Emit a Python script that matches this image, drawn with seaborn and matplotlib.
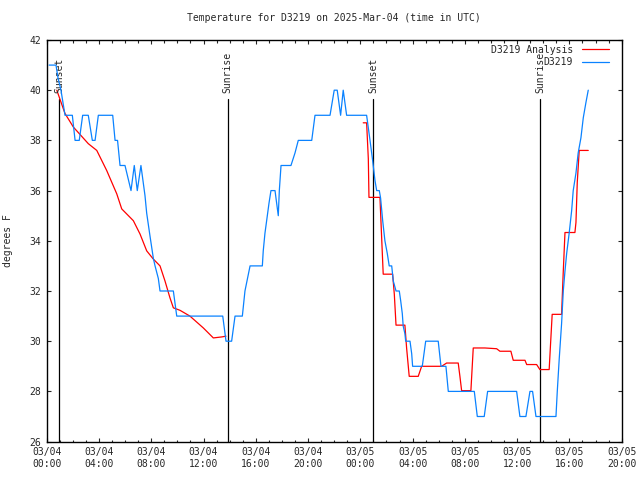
import matplotlib
matplotlib.use("Agg")
import matplotlib.pyplot as plt
import matplotlib.dates as mdates
import seaborn as sns
import pandas as pd

# hours after 2025-03-04 00:00 UTC
obs_hours = [0.18, 0.71, 0.86, 1.09, 1.40, 1.96, 2.17, 2.49, 2.75, 3.18, 3.49, 3.70, 3.95,
             5.05, 5.23, 5.42, 5.61, 5.99, 6.45, 6.70, 6.93, 7.21, 7.52, 7.65, 7.90, 8.16,
             8.29, 8.54, 8.67, 9.69, 9.95, 13.47, 13.72, 14.15, 14.41, 14.97, 15.17, 15.56,
             16.50, 16.57, 16.70, 16.83, 17.01, 17.16, 17.47, 17.72, 17.80, 17.93, 18.69,
             19.00, 19.25, 20.28, 20.53, 21.68, 22.00, 22.23, 22.49, 22.69, 22.95, 24.48,
             24.61, 24.74, 24.94, 25.12, 25.25, 25.45, 25.55, 25.71, 25.88, 26.06, 26.21,
             26.40, 26.52, 26.73, 26.98, 27.09, 27.21, 27.28, 27.41, 27.47, 27.80, 27.93,
             28.00, 28.74, 29.00, 29.96, 30.17, 30.55, 30.73, 32.72, 32.95, 33.48, 33.74,
             35.96, 36.21, 36.67, 36.98, 37.18, 37.44, 38.97, 39.07, 39.22, 39.40, 39.53,
             39.66, 39.79, 39.98, 40.17, 40.29, 40.50, 40.67, 40.88, 41.06, 41.26, 41.44]
obs_temp = [41, 41, 40.5, 40, 39, 39, 38, 38, 39, 39, 38, 38, 39,
            39, 38, 38, 37, 37, 36, 37, 36, 37, 35.8, 35.1, 34.2, 33.3,
            33, 32.5, 32, 32, 31, 31, 30, 30, 31, 31, 32, 33,
            33, 33.6, 34.3, 34.8, 35.5, 36, 36, 35, 36, 37, 37,
            37.5, 38, 38, 39, 39, 40, 40, 39, 40, 39, 39,
            38.5, 38, 37.2, 36.4, 36, 36, 35.7, 34.8, 34, 33.5, 33,
            33, 32.4, 32, 32, 31.6, 31.1, 30.6, 30.3, 30, 30, 29.5,
            29, 29, 30, 30, 29, 29, 28, 28, 27, 27, 28,
            28, 27, 27, 28, 28, 27, 27, 28, 29.3, 30.7, 32,
            32.8, 33.5, 34.3, 35.2, 36, 36.7, 37.5, 38.1, 38.9, 39.5, 40]

ana1_hours = [0.77, 1.40, 2.04, 3.18, 3.83, 4.59, 5.36, 5.74, 6.63, 7.14, 7.65, 8.16,
              8.67, 9.05, 9.43, 9.69, 10.20, 10.96, 11.98, 12.75, 13.39, 13.72]
ana1_temp = [40.0, 39.07, 38.53, 37.87, 37.6, 36.8, 35.87, 35.27, 34.8, 34.27, 33.6, 33.27,
             33.0, 32.4, 31.73, 31.33, 31.23, 31.0, 30.53, 30.13, 30.17, 30.2]
ana2_hours = [24.22, 24.48, 24.61, 24.66, 25.50, 25.63, 25.75, 26.47, 26.60, 26.73, 27.41,
              27.54, 27.74, 28.43, 28.69, 30.22, 30.60, 31.49, 31.62, 31.75, 32.46, 32.64,
              33.53, 34.43, 34.68, 35.52, 35.70, 36.60, 36.73, 37.49, 37.74, 38.45, 38.56,
              38.68, 39.40, 39.44, 39.52, 39.66, 40.42, 40.50, 40.60, 40.75, 41.44]
ana2_temp = [38.7, 38.7, 37.27, 35.73, 35.73, 34.13, 32.67, 32.67, 31.87, 30.64, 30.64,
             29.73, 28.6, 28.6, 29.0, 29.0, 29.13, 29.13, 28.6, 28.03, 28.03, 29.73,
             29.73, 29.7, 29.6, 29.6, 29.24, 29.24, 29.07, 29.07, 28.87, 28.87, 29.93,
             31.07, 31.07, 31.6, 32.67, 34.33, 34.33, 34.73, 36.33, 37.6, 37.6]

sun_hours = [0.97, 13.85, 24.99, 37.74]
sun_labels = ["Sunset", "Sunrise", "Sunset", "Sunrise"]

base = pd.Timestamp("2025-03-04 00:00")


def to_time(hours):
    return base + pd.to_timedelta(hours, unit="h")


sns.set_theme(style="white")
plt.rcParams['font.family'] = ['DejaVu Sans Mono']
plt.rcParams['font.size'] = 7

fig = plt.figure(figsize=(6.4, 4.8), dpi=100)
ax = fig.add_axes([0.073, 0.080, 0.8984, 0.8367])

red = "#ff0000"
blue = "#0a82ff"

sns.lineplot(x=to_time(ana1_hours), y=ana1_temp, ax=ax, color=red, lw=0.9,
             estimator=None, label="D3219 Analysis", zorder=3)
sns.lineplot(x=to_time(ana2_hours), y=ana2_temp, ax=ax, color=red, lw=0.9,
             estimator=None, zorder=3)
sns.lineplot(x=to_time(obs_hours), y=obs_temp, ax=ax, color=blue, lw=0.9,
             estimator=None, label="D3219", zorder=4)

# sunrise / sunset markers
for h, lab in zip(sun_hours, sun_labels):
    t = to_time(h)
    ax.plot([t, t], [26, 39.65], color="black", lw=0.9, zorder=2)
    ax.text(t, 39.9, lab, rotation=90, ha="center", va="bottom", fontsize=7)

ax.set_xlim(to_time(0), to_time(44))
ax.set_ylim(26, 42)
ax.set_yticks(range(26, 43, 2))
ax.xaxis.set_major_locator(mdates.HourLocator(byhour=range(0, 24, 4)))
ax.xaxis.set_minor_locator(mdates.HourLocator())
ax.xaxis.set_major_formatter(mdates.DateFormatter("%m/%d\n%H:%M"))

ax.tick_params(which="major", direction="in", length=3.2, width=0.8,
               top=True, right=True, bottom=True, left=True, labelsize=7, pad=4)
ax.tick_params(which="minor", direction="in", length=1.8, width=0.8,
               top=True, bottom=True)
for s in ax.spines.values():
    s.set_color("black")
    s.set_linewidth(1.0)

ax.set_xlabel("")
ax.set_ylabel("degrees F", fontsize=7, labelpad=12)
ax.set_title("Temperature for D3219 on 2025-Mar-04 (time in UTC)", fontsize=7, pad=14)

handles, labels = ax.get_legend_handles_labels()
ax.legend(handles, labels, loc="upper right", bbox_to_anchor=(0.978, 0.988),
          frameon=False, markerfirst=False, fontsize=7, handlelength=2.8,
          handletextpad=0.9, labelspacing=0.25, borderpad=0, borderaxespad=0)

plt.savefig("out.png", dpi=100)
